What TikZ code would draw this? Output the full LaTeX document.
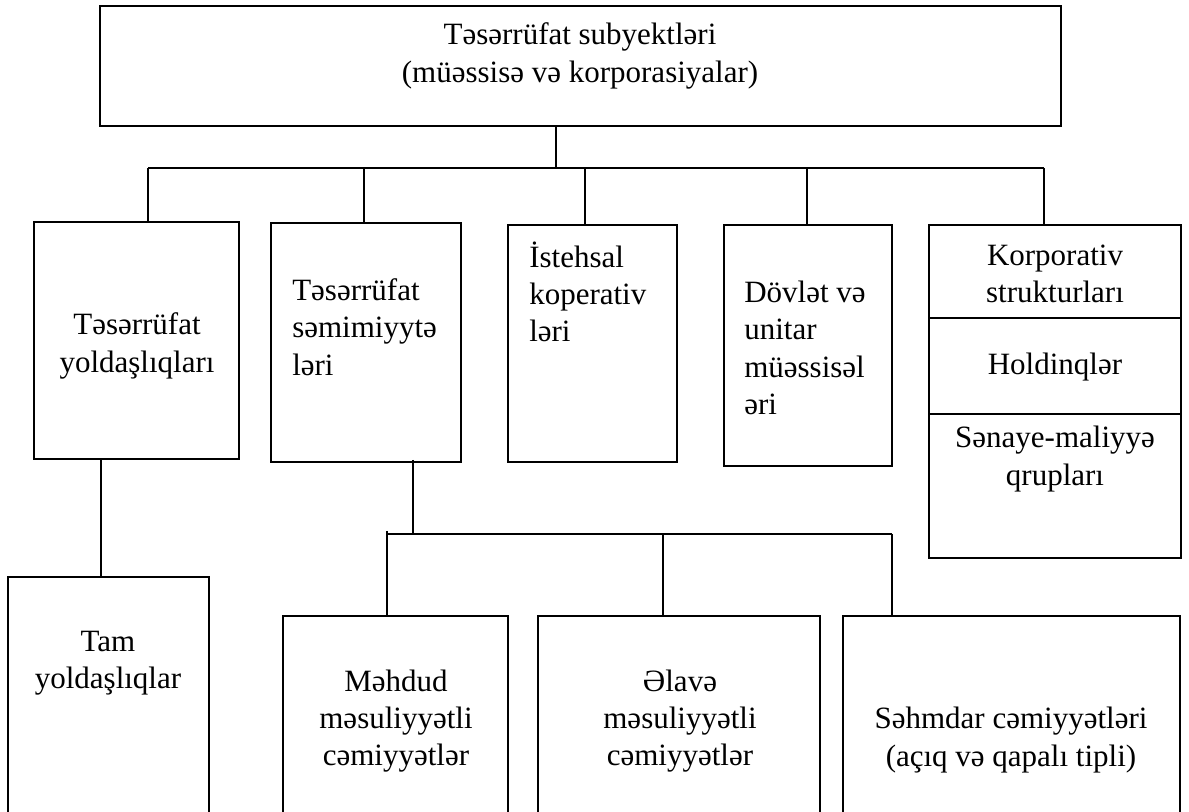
\documentclass[tikz,border=0pt]{standalone}
\usepackage{fontspec}
\setmainfont{Liberation Serif}
\usetikzlibrary{fit}
\begin{document}
\begin{tikzpicture}[x=0.75pt,y=-0.75pt,
  box/.style={draw, line width=1.2pt, inner sep=0pt, rectangle},
  lbl/.style={inner sep=0pt, font=\fontsize{23.25}{28}\selectfont},
  link/.style={line width=1.2pt}]
\useasboundingbox (0,0) rectangle (1189,812);
\fill[white] (0,0) rectangle (1189,812);
\clip (0,0) rectangle (1189,812);

% root
\node[box, fit={(100,6) (1061,126)}] (top) {};
\node[lbl, align=center] (t0) at (580,56) {Təsərrüfat subyektləri\\(müəssisə və korporasiyalar)};

% first level
\node[box, fit={(34,222) (239,459)}] (b1) {};
\node[lbl, align=center] (t1) at (137,346) {Təsərrüfat\\yoldaşlıqları};

\node[box, fit={(271,223) (461,462)}] (b2) {};
\node[lbl, align=left, anchor=west] (t2) at (292,327) {Təsərrüfat\\səmimiyytə\\ləri};

\node[box, fit={(508,225) (677,462)}] (b3) {};
\node[lbl, align=left, anchor=west] (t3) at (529,292) {İstehsal\\koperativ\\ləri};

\node[box, fit={(724,225) (892,466)}] (b4) {};
\node[lbl, align=left, anchor=west] (t4) at (744,348) {Dövlət və\\unitar\\müəssisəl\\əri};

\node[box, fit={(929,225) (1181,318)}] (b5a) {};
\node[box, fit={(929,318) (1181,414)}] (b5b) {};
\node[box, fit={(929,414) (1181,558)}] (b5c) {};
\node[lbl, align=center] (t5a) at (1055,274) {Korporativ\\strukturları};
\node[lbl, align=center] (t5b) at (1055,367) {Holdinqlər};
\node[lbl, align=center] (t5c) at (1055,459) {Sənaye-maliyyə\\qrupları};

% second level
\node[box, fit={(8,577) (209,840)}] (tam) {};
\node[lbl, align=center] (t6) at (108,663) {Tam\\yoldaşlıqlar};

\node[box, fit={(283,616) (508,840)}] (m1) {};
\node[lbl, align=center] (t7) at (396,721) {Məhdud\\məsuliyyətli\\cəmiyyətlər};

\node[box, fit={(538,616) (820,840)}] (m2) {};
\node[lbl, align=center] (t8) at (680,721) {Əlavə\\məsuliyyətli\\cəmiyyətlər};

\node[box, fit={(843,616) (1180,840)}] (m3) {};
\node[lbl, align=center] (t9) at (1011,740) {Səhmdar cəmiyyətləri\\(açıq və qapalı tipli)};

% upper bus
\coordinate (hub) at (556,168);
\coordinate (d1) at (148,168);
\coordinate (d2) at (364,168);
\coordinate (d3) at (585,168);
\coordinate (d4) at (807,168);
\coordinate (d5) at (1044,168);
\draw[link] (top.south -| hub) -- (hub);
\draw[link] (d1) -- (d5);
\draw[link] (d1) -- (b1.north -| d1);
\draw[link] (d2) -- (b2.north -| d2);
\draw[link] (d3) -- (b3.north -| d3);
\draw[link] (d4) -- (b4.north -| d4);
\draw[link] (d5) -- (b5a.north -| d5);

% branch to full partnerships
\coordinate (k1) at (101,520);
\draw[link] (b1.south -| k1) -- (tam.north -| k1);

% lower bus
\coordinate (hub2) at (413,534);
\coordinate (e1) at (387,534);
\coordinate (e2) at (663,534);
\coordinate (e3) at (892,534);
\draw[link] ([yshift=2.25pt]b2.south -| hub2) -- (hub2);
\draw[link] (e1) -- (e3);
\draw[link] ([yshift=2.25pt]e1) -- (m1.north -| e1);
\draw[link] (e2) -- (m2.north -| e2);
\draw[link] (e3) -- (m3.north -| e3);
\end{tikzpicture}
\end{document}
